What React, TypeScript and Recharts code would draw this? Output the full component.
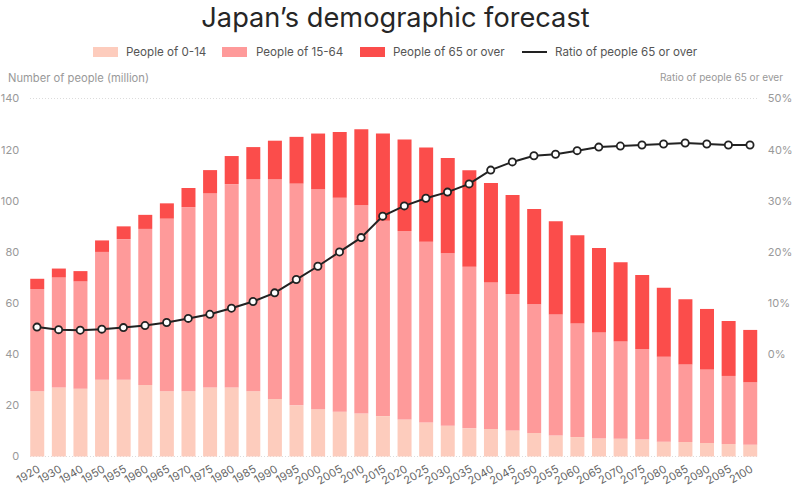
import { Bar, CartesianGrid, ComposedChart, Line, XAxis, YAxis } from "recharts";

const years = [
  "1920", "1930", "1940", "1950", "1955", "1960", "1965", "1970", "1975", "1980", "1985", "1990",
  "1995", "2000", "2005", "2010", "2015", "2020", "2025", "2030", "2035", "2040", "2045", "2050",
  "2055", "2060", "2065", "2070", "2075", "2080", "2085", "2090", "2095", "2100",
];
const young = [
  25.5, 27, 26.5, 30, 30, 28, 25.5, 25.5, 27, 27, 25.5, 22.5, 20, 18.5, 17.5, 16.8, 15.8, 14.5, 13.3,
  12, 11, 10.8, 10.2, 9.2, 8.2, 7.6, 7, 6.9, 6.6, 5.8, 5.7, 5.3, 4.9, 4.6,
];
const working = [
  40, 43, 42, 50, 55, 61, 67.5, 72, 76, 79.5, 83, 86, 86.7, 86, 83.7, 81.5, 76.4, 73.7, 70.7, 67.5, 63.2, 57.2,
  53.3, 50.3, 47.3, 44.4, 41.5, 38.1, 35.4, 33.2, 30.3, 28.7, 26.6, 24.4,
];
const senior = [
  4, 3.5, 4, 4.5, 5, 5.5, 6, 7.5, 9, 11, 12.5, 15, 18.3, 21.8, 25.7, 29.7, 34.1, 35.8, 36.8, 37.2, 37.7, 39, 38.8,
  37.3, 36.5, 34.5, 33, 31, 29, 27, 25.5, 23.7, 21.5, 20.5,
];
const ratio = [
  5.3, 4.8, 4.7, 4.9, 5.2, 5.6, 6.2, 7, 7.8, 9, 10.3, 12, 14.6, 17.2, 20, 22.8, 27, 29, 30.5, 31.7, 33.3,
  36, 37.6, 38.8, 39.1, 39.8, 40.5, 40.7, 40.9, 41.1, 41.3, 41.1, 40.9, 40.9,
];
const leftTicks = [0, 20, 40, 60, 80, 100, 120, 140];
const rightTicks = [0, 10, 20, 30, 40, 50];

const data = years.map((year, i) => ({
  year,
  young: young[i],
  working: working[i],
  senior: senior[i],
  ratio: ratio[i],
}));

const FONT = "Inter, 'Liberation Sans', sans-serif";

const legendItems = [
  { label: "People of 0-14", color: "#fdccbd", left: 93, textLeft: 126 },
  { label: "People of 15-64", color: "#fe9a9a", left: 222, textLeft: 256 },
  { label: "People of 65 or over", color: "#fb4d4b", left: 360, textLeft: 393 },
];

function ChartLegend() {
  return (
    <div style={{ position: "absolute", left: 0, top: 42, width: 797, height: 20, fontSize: 11.6, color: "#555" }}>
      {legendItems.map((item) => (
        <div key={item.label}>
          <div style={{ position: "absolute", left: item.left, top: 5, width: 25, height: 10, background: item.color }} />
          <div style={{ position: "absolute", left: item.textLeft, top: 3 }}>{item.label}</div>
        </div>
      ))}
      <div style={{ position: "absolute", left: 522, top: 9, width: 25, height: 2, background: "#222" }} />
      <div style={{ position: "absolute", left: 555, top: 3 }}>Ratio of people 65 or over</div>
    </div>
  );
}

export default function App() {
  return (
    <div style={{ position: "absolute", left: 0, top: 0, width: 797, height: 494, background: "#fff", fontFamily: FONT }}>
      <div style={{ position: "absolute", top: 0, width: 797, textAlign: "center", left: -3, fontSize: 27.2, color: "#262626", lineHeight: "36px" }}>
        Japan’s demographic forecast
      </div>
      <ChartLegend />
      <div style={{ position: "absolute", left: 8, top: 71, fontSize: 11.2, color: "#999" }}>Number of people (million)</div>
      <div style={{ position: "absolute", right: 14, top: 71, fontSize: 10.05, color: "#999" }}>Ratio of people 65 or ever</div>
      <ComposedChart
        width={797}
        height={494}
        data={data}
        barCategoryGap="18.7%"
        margin={{ top: 98.5, left: 0, right: 0, bottom: 0 }}
      >
        <CartesianGrid x={30} width={727} vertical={false} stroke="#dcdcdc" strokeDasharray="1 2" />
        <XAxis
          dataKey="year"
          height={37.5}
          interval={0}
          angle={-30}
          textAnchor="end"
          tickLine={false}
          axisLine={false}
          tick={{ fontSize: 11, fill: "#666" }}
          tickMargin={2}
        />
        <YAxis
          yAxisId="left"
          width={26.2}
          domain={[0, 140]}
          ticks={leftTicks}
          tickLine={false}
          axisLine={false}
          tickMargin={1}
          tick={{ fontSize: 11, fill: "#999" }}
        />
        <YAxis
          yAxisId="right"
          orientation="right"
          width={36.2}
          domain={[-20, 50]}
          ticks={rightTicks}
          tickFormatter={(v) => `${v}%`}
          tickLine={false}
          axisLine={false}
          tickMargin={1}
          tick={{ fontSize: 11, fill: "#999" }}
        />
        <Bar yAxisId="left" dataKey="young" stackId="a" fill="#fdccbd" isAnimationActive={false} />
        <Bar yAxisId="left" dataKey="working" stackId="a" fill="#fe9a9a" isAnimationActive={false} />
        <Bar yAxisId="left" dataKey="senior" stackId="a" fill="#fb4d4b" isAnimationActive={false} />
        <Line
          yAxisId="right"
          dataKey="ratio"
          stroke="#222"
          strokeWidth={2}
          dot={{ r: 3.6, fill: "#fff", stroke: "#222", strokeWidth: 1.8 }}
          isAnimationActive={false}
        />
      </ComposedChart>
    </div>
  );
}
